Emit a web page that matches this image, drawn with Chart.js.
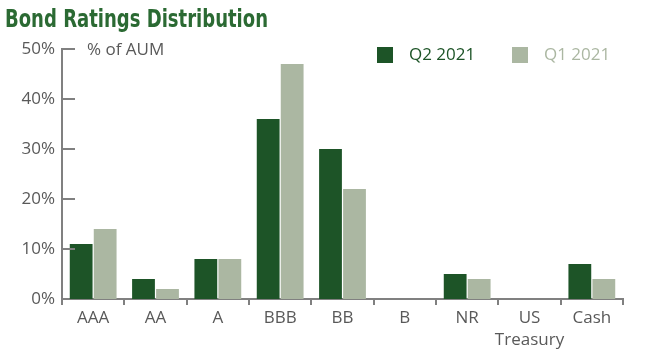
<!DOCTYPE html>
<html>
<head>
<meta charset="utf-8">
<script src="https://cdn.jsdelivr.net/npm/chart.js@4"></script>
<style>
  html, body { margin: 0; padding: 0; background: #fff; }
  #wrap { width: 650px; height: 358px; }
</style>
</head>
<body>
<div id="wrap"><canvas id="myChart" width="650" height="358"></canvas></div>
<script>
// Dữ liệu biểu đồ
var categories = ['AAA', 'AA', 'A', 'BBB', 'BB', 'B', 'NR', ['US', 'Treasury'], 'Cash'];
var q2_2021 = [11, 4, 8, 36, 30, 0, 5, 0, 7];
var q1_2021 = [14, 2, 8, 47, 22, 0, 4, 0, 4];
var yTicks = [0, 10, 20, 30, 40, 50];

var chartTitle = 'Bond Ratings Distribution';
var darkGreen = '#1d5427';
var lightGreen = '#abb7a2';
var axisGray = '#808080';
var textGray = '#595959';
var baseFont = "'Open Sans', sans-serif";

// Vẽ tiêu đề (chữ hẹp), vạch chia trục Y hướng vào trong, chú giải và nhãn "% of AUM"
var extrasPlugin = {
    id: 'extras',
    afterDraw: function (chart) {
        var c = chart.ctx;
        var area = chart.chartArea;
        var yScale = chart.scales.y;
        c.save();

        // tiêu đề
        c.font = "bold 25px 'DejaVu Sans Condensed', 'DejaVu Sans', sans-serif";
        c.fillStyle = '#2b6a33';
        c.textBaseline = 'alphabetic';
        c.textAlign = 'left';
        var w = c.measureText(chartTitle).width;
        c.save();
        c.translate(5, 27);
        c.scale(263 / w, 1);
        c.fillText(chartTitle, 0, 0);
        c.restore();

        c.strokeStyle = axisGray;
        c.lineWidth = 2;
        yTicks.forEach(function (v) {
            if (v === 0) return;
            var y = Math.round(yScale.getPixelForValue(v));
            c.beginPath();
            c.moveTo(area.left, y);
            c.lineTo(area.left + 13, y);
            c.stroke();
        });

        c.font = '17px ' + baseFont;
        c.textBaseline = 'middle';
        c.fillStyle = textGray;
        c.fillText('% of AUM', 87, 50);

        // chú giải
        var legendX = [377, 512];
        chart.data.datasets.forEach(function (ds, i) {
            c.fillStyle = ds.backgroundColor;
            c.fillRect(legendX[i], 47, 16, 16);
            c.fillText(ds.label, legendX[i] + 32, 55);
        });
        c.restore();
    }
};

var ctx = document.getElementById('myChart').getContext('2d');
var chart = new Chart(ctx, {
    type: 'bar',
    data: {
        labels: categories,
        datasets: [
            {
                label: 'Q2 2021',
                backgroundColor: darkGreen,
                data: q2_2021,
                categoryPercentage: 0.77,
                barPercentage: 0.95
            },
            {
                label: 'Q1 2021',
                backgroundColor: lightGreen,
                data: q1_2021,
                categoryPercentage: 0.77,
                barPercentage: 0.95
            }
        ]
    },
    options: {
        responsive: false,
        animation: false,
        layout: {
            padding: { left: 5, right: 27, top: 49, bottom: 0 }
        },
        scales: {
            x: {
                grid: {
                    display: true,
                    drawOnChartArea: false,
                    tickLength: 6,
                    color: axisGray,
                    lineWidth: 2
                },
                border: { display: true, color: axisGray, width: 2 },
                ticks: {
                    color: textGray,
                    font: { family: baseFont, size: 17, lineHeight: 1.3 },
                    padding: 2,
                    maxRotation: 0,
                    autoSkip: false
                },
                afterFit: function (scale) { scale.height = 59; }
            },
            y: {
                min: 0,
                max: 50,
                grid: { display: false, drawTicks: false },
                border: { display: true, color: axisGray, width: 2 },
                ticks: {
                    stepSize: 10,
                    color: textGray,
                    padding: 7,
                    font: { family: baseFont, size: 17 },
                    callback: function (v) { return v + '%'; }
                },
                afterFit: function (scale) { scale.width = 57; }
            }
        },
        plugins: {
            legend: { display: false },
            tooltip: { enabled: false },
            title: { display: false }
        }
    },
    plugins: [extrasPlugin]
});
</script>
</body>
</html>
